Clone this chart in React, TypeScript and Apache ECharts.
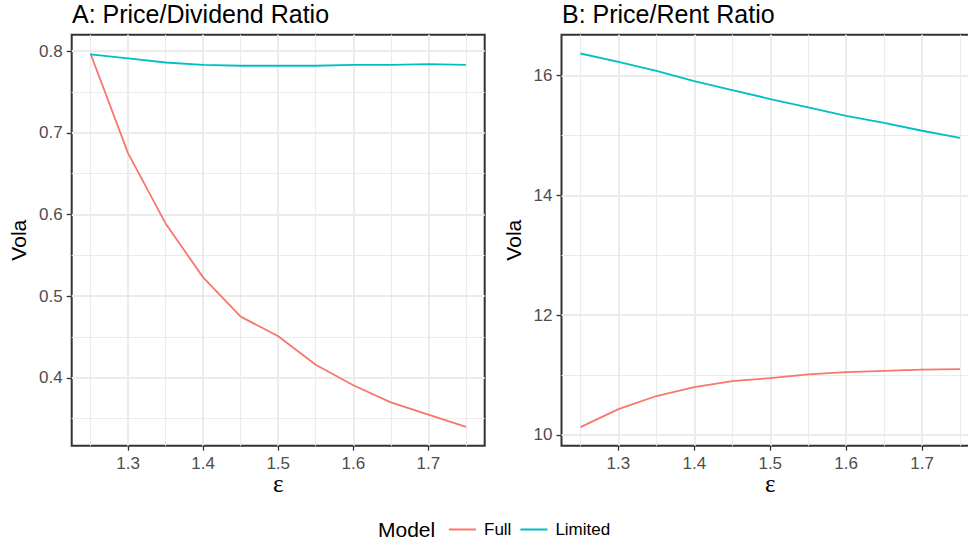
import React, { useEffect, useRef } from "react";
import * as echarts from "echarts";

const epsilon = [1.25, 1.3, 1.35, 1.4, 1.45, 1.5, 1.55, 1.6, 1.65, 1.7, 1.75];
const pdFull = [0.797, 0.675, 0.589, 0.523, 0.475, 0.451, 0.416, 0.391, 0.370, 0.355, 0.340];
const pdLimited = [0.796, 0.791, 0.786, 0.783, 0.782, 0.782, 0.782, 0.783, 0.783, 0.784, 0.783];
const prFull = [10.13, 10.43, 10.65, 10.80, 10.90, 10.95, 11.01, 11.05, 11.07, 11.09, 11.10];
const prLimited = [16.37, 16.23, 16.08, 15.91, 15.76, 15.61, 15.47, 15.33, 15.21, 15.08, 14.96];

const xTicks = [1.3, 1.4, 1.5, 1.6, 1.7];
const xMinor = [1.25, 1.35, 1.45, 1.55, 1.65, 1.75];
const yTicksA = [0.4, 0.5, 0.6, 0.7, 0.8];
const yMinorA = [0.35, 0.45, 0.55, 0.65, 0.75];
const yTicksB = [10, 12, 14, 16];
const yMinorB = [11, 13, 15];
const panelTitles = ["A: Price/Dividend Ratio", "B: Price/Rent Ratio"];
const seriesNames = ["Full", "Limited"];
const colors = ["#F8766D", "#00BFC4"];

const FONT = "'Liberation Sans', Arial, Helvetica, sans-serif";

const pairs = (ys: number[]) => epsilon.map((x, i) => [x, ys[i]]);

function majorX(gridIndex: number, min: number, max: number) {
  return {
    type: "value",
    gridIndex,
    min,
    max,
    name: "ε",
    nameLocation: "middle",
    nameGap: 30,
    nameMoveOverlap: false,
    nameTextStyle: {
      fontFamily: "'Liberation Serif', 'DejaVu Serif', serif",
      fontSize: 25,
      lineHeight: 16,
      color: "#000",
    },
    axisLine: { show: false },
    axisTick: { show: true, customValues: xTicks, length: 5, lineStyle: { color: "#333333", width: 1.3 } },
    axisLabel: {
      show: true,
      customValues: xTicks,
      margin: 9,
      color: "#4D4D4D",
      fontSize: 17,
      fontFamily: FONT,
      formatter: (v: number) => v.toFixed(1),
    },
    splitLine: { show: true, lineStyle: { color: "#EBEBEB", width: 2 } },
  };
}

function minorAxis(kind: "x" | "y", gridIndex: number, min: number, max: number, values: number[]) {
  return {
    type: "value",
    gridIndex,
    min,
    max,
    position: kind === "x" ? "top" : "right",
    axisLine: { show: false },
    axisTick: { show: false, customValues: values },
    axisLabel: { show: false, customValues: values },
    splitLine: { show: true, lineStyle: { color: "#EBEBEB", width: 1.1 } },
  };
}

function majorY(gridIndex: number, min: number, max: number, ticks: number[], digits: number) {
  return {
    type: "value",
    gridIndex,
    min,
    max,
    name: "Vola",
    nameLocation: "middle",
    nameRotate: 90,
    nameGap: digits > 0 ? 43 : 38,
    nameTextStyle: { fontFamily: FONT, fontSize: 21, color: "#000" },
    axisLine: { show: false },
    axisTick: { show: true, customValues: ticks, length: 5, lineStyle: { color: "#333333", width: 1.3 } },
    axisLabel: {
      show: true,
      customValues: ticks,
      margin: 9,
      color: "#4D4D4D",
      fontSize: 17,
      fontFamily: FONT,
      formatter: (v: number) => v.toFixed(digits),
    },
    splitLine: { show: true, lineStyle: { color: "#EBEBEB", width: 2 } },
  };
}

export default function App() {
  const ref = useRef<HTMLDivElement>(null);
  useEffect(() => {
    if (!ref.current) return;
    const chart = echarts.init(ref.current, null, { renderer: "svg" });
    const grids = [
      { left: 71.7, top: 34.7, width: 413, height: 411 },
      { left: 561.5, top: 34.7, width: 417.5, height: 411 },
    ];
    const lineSeries = (name: string, data: number[], gi: number, ci: number) => ({
      type: "line",
      name,
      xAxisIndex: gi * 2,
      yAxisIndex: gi * 2,
      data: pairs(data),
      showSymbol: false,
      symbol: "none",
      lineStyle: { color: colors[ci], width: 1.8 },
      itemStyle: { color: colors[ci] },
      z: 3,
    });
    chart.setOption({
      animation: false,
      backgroundColor: "#FFFFFF",
      grid: grids.map((g) => ({
        ...g,
        show: true,
        borderColor: "#333333",
        borderWidth: 2,
        backgroundColor: "transparent",
        containLabel: false,
        outerBoundsMode: "none",
      })),
      xAxis: [
        majorX(0, 1.225, 1.775),
        minorAxis("x", 0, 1.225, 1.775, xMinor),
        majorX(1, 1.225, 1.775),
        minorAxis("x", 1, 1.225, 1.775, xMinor),
      ],
      yAxis: [
        majorY(0, 0.317, 0.82, yTicksA, 1),
        minorAxis("y", 0, 0.317, 0.82, yMinorA),
        majorY(1, 9.82, 16.684, yTicksB, 0),
        minorAxis("y", 1, 9.82, 16.684, yMinorB),
      ],
      legend: {
        show: true,
        data: seriesNames,
        left: 449,
        top: 521,
        padding: 0,
        icon: "rect",
        itemWidth: 27,
        itemHeight: 2,
        itemGap: 9,
        textStyle: { fontFamily: FONT, fontSize: 17, color: "#000", padding: [0, 0, 0, 3] },
      },
      graphic: [
        {
          type: "text",
          left: 72,
          top: 1,
          style: { text: panelTitles[0], font: `25px ${FONT}`, fill: "#000" },
        },
        {
          type: "text",
          left: 562,
          top: 1,
          style: { text: panelTitles[1], font: `25px ${FONT}`, fill: "#000" },
        },
        {
          type: "text",
          left: 378,
          top: 519,
          style: { text: "Model", font: `21px ${FONT}`, fill: "#000" },
        },
      ],
      series: [
        lineSeries(seriesNames[0], pdFull, 0, 0),
        lineSeries(seriesNames[1], pdLimited, 0, 1),
        lineSeries(seriesNames[0], prFull, 1, 0),
        lineSeries(seriesNames[1], prLimited, 1, 1),
      ],
    });
    return () => chart.dispose();
  }, []);
  return (
    <div
      ref={ref}
      style={{ position: "fixed", left: 0, top: 0, width: 968, height: 545, background: "#fff" }}
    />
  );
}
